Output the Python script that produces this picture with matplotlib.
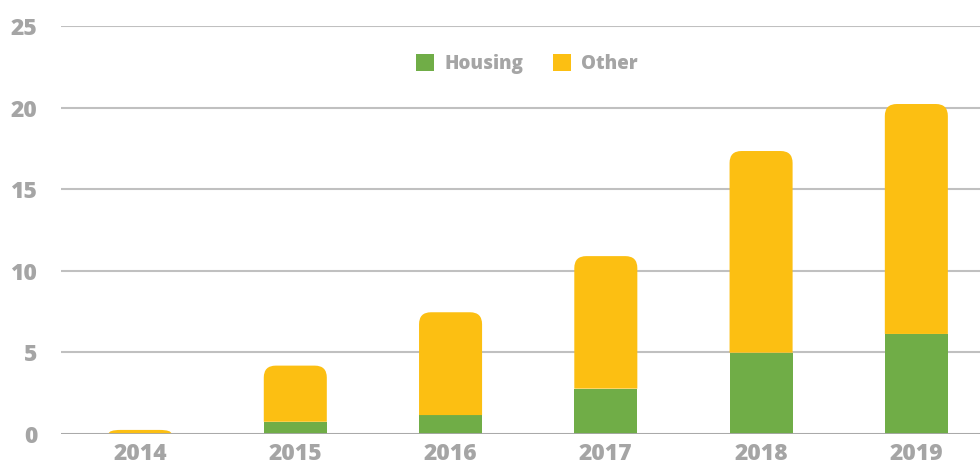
import matplotlib
matplotlib.use("Agg")
import matplotlib.pyplot as plt
from matplotlib.path import Path
from matplotlib.patches import PathPatch, Patch

years = ["2014", "2015", "2016", "2017", "2018", "2019"]
housing = [0.0, 0.75, 1.16, 2.78, 4.98, 6.13]
other = [0.25, 3.44, 6.30, 8.12, 12.36, 14.09]
yticks = [0, 5, 10, 15, 20, 25]

GREEN = "#70AD47"
YELLOW = "#FCBF12"
GREY_TXT = "#A5A5A5"
GRID = "#C0C0C0"

plt.rcParams["font.family"] = ["Open Sans", "DejaVu Sans"]

fig = plt.figure(figsize=(9.8, 4.67), dpi=100)
ax = fig.add_axes([61 / 980, 1 - 434 / 467, 1 - 61 / 980, (434 - 26) / 467])

x = list(range(len(years)))
width = 0.406

ax.set_xlim(-0.509, 5.41)
ax.set_ylim(0, 25)


def rounded_top(rect, rx_px=12, ry_px=12):
    # rounded top corners, radius given in pixels converted to data units
    x0, y0 = rect.get_x(), rect.get_y()
    w, h = rect.get_width(), rect.get_height()
    x1, y1 = x0 + w, y0 + h
    p0 = ax.transData.transform((0, 0))
    p1 = ax.transData.transform((1, 1))
    rx = rx_px / (p1[0] - p0[0])
    ry = min(ry_px / (p1[1] - p0[1]), h)
    verts = [(x0, y0), (x0, y1 - ry), (x0, y1), (x0 + rx, y1),
             (x1 - rx, y1), (x1, y1), (x1, y1 - ry), (x1, y0), (x0, y0)]
    codes = [Path.MOVETO, Path.LINETO, Path.CURVE3, Path.CURVE3,
             Path.LINETO, Path.CURVE3, Path.CURVE3, Path.LINETO, Path.CLOSEPOLY]
    return PathPatch(Path(verts, codes), facecolor=rect.get_facecolor(),
                     edgecolor="none", zorder=3)


ax.bar(x, housing, width=width, color=GREEN, zorder=3, linewidth=0)
other_bars = ax.bar(x, other, width=width, bottom=housing, color=YELLOW,
                    zorder=3, linewidth=0)
for r in other_bars:
    r.set_visible(False)
    ax.add_patch(rounded_top(r))

ax.set_yticks(yticks)
ax.set_xticks(x)
ax.set_xticklabels(years)
ax.grid(axis="y", color=GRID, linewidth=1.5, zorder=0)
ax.axhline(0, color="#A8A8A8", linewidth=2, zorder=4)
for s in ax.spines.values():
    s.set_visible(False)
ax.tick_params(axis="both", length=0, labelsize=16.5, labelcolor=GREY_TXT)
ax.tick_params(axis="y", pad=17)
ax.tick_params(axis="x", pad=6)
for lab in ax.get_xticklabels() + ax.get_yticklabels():
    lab.set_fontweight(800)

handles = [Patch(facecolor=GREEN, label="Housing"),
           Patch(facecolor=YELLOW, label="Other")]
leg = ax.legend(handles=handles, loc="center", ncol=2, frameon=False,
                bbox_to_anchor=(527 / 980, 1 - 64 / 467),
                bbox_transform=fig.transFigure,
                prop={"size": 13.5, "weight": 800},
                handlelength=0.95, handleheight=0.95, handletextpad=0.55,
                columnspacing=1.6)
for t in leg.get_texts():
    t.set_color(GREY_TXT)

fig.savefig("out.png", dpi=100)
